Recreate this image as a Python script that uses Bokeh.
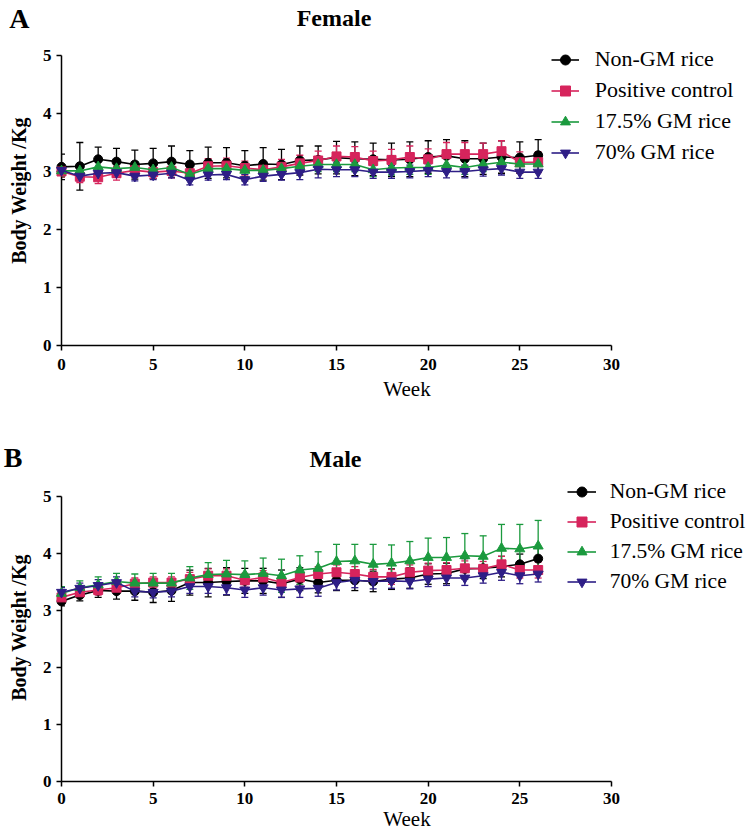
from bokeh.plotting import figure
from bokeh.models import (ColumnDataSource, Whisker, TeeHead, Legend, LegendItem,
                          Label, Range1d, FixedTicker, LinearAxis, Div)
from bokeh.layouts import column
from bokeh.embed import file_html
from bokeh.resources import INLINE

weeks = list(range(27))
series_names = ["Non-GM rice", "Positive control", "17.5% GM rice", "70% GM rice"]
x_ticks = [0, 5, 10, 15, 20, 25, 30]
y_ticks = [0, 1, 2, 3, 4, 5]

# Female body weight (kg), mean and error
f_non = [3.08, 3.09, 3.21, 3.17, 3.12, 3.14, 3.17, 3.12, 3.15, 3.15, 3.10, 3.13, 3.12, 3.19,
         3.20, 3.24, 3.22, 3.21, 3.20, 3.21, 3.25, 3.27, 3.22, 3.22, 3.25, 3.24, 3.28]
f_non_err = [0.22, 0.41, 0.21, 0.23, 0.25, 0.26, 0.27, 0.24, 0.27, 0.26, 0.26, 0.28, 0.26, 0.25,
             0.24, 0.28, 0.29, 0.28, 0.29, 0.30, 0.28, 0.28, 0.31, 0.27, 0.28, 0.27, 0.27]
f_pos = [3.00, 2.91, 2.90, 2.97, 3.02, 2.99, 3.01, 2.97, 3.09, 3.10, 3.06, 3.03, 3.08, 3.14,
         3.19, 3.26, 3.25, 3.18, 3.20, 3.25, 3.21, 3.30, 3.30, 3.30, 3.35, 3.16, 3.16]
f_pos_err = [0.10, 0.10, 0.11, 0.12, 0.12, 0.11, 0.12, 0.12, 0.13, 0.13, 0.12, 0.13, 0.13, 0.14,
             0.16, 0.18, 0.18, 0.17, 0.18, 0.19, 0.18, 0.20, 0.20, 0.19, 0.18, 0.18, 0.18]
f_g17 = [3.01, 3.01, 3.08, 3.05, 3.07, 3.03, 3.07, 2.95, 3.05, 3.05, 3.02, 3.02, 3.05, 3.09,
         3.12, 3.12, 3.12, 3.03, 3.06, 3.07, 3.07, 3.11, 3.07, 3.12, 3.16, 3.13, 3.13]
f_g17_err = [0.10, 0.09, 0.10, 0.10, 0.10, 0.10, 0.10, 0.10, 0.10, 0.10, 0.11, 0.10, 0.11, 0.11,
             0.12, 0.12, 0.12, 0.12, 0.12, 0.12, 0.12, 0.12, 0.12, 0.12, 0.12, 0.12, 0.12]
f_g70 = [3.02, 2.92, 2.97, 2.98, 2.92, 2.94, 2.97, 2.85, 2.94, 2.95, 2.86, 2.92, 2.95, 2.98,
         3.04, 3.03, 3.03, 2.99, 2.99, 3.00, 3.02, 3.00, 3.00, 3.03, 3.05, 2.99, 2.99]
f_g70_err = [0.08, 0.08, 0.08, 0.08, 0.08, 0.08, 0.08, 0.08, 0.09, 0.09, 0.09, 0.09, 0.10, 0.12,
             0.15, 0.12, 0.12, 0.11, 0.11, 0.11, 0.11, 0.11, 0.11, 0.11, 0.11, 0.11, 0.11]

# Male body weight (kg), mean and error
m_non = [3.16, 3.27, 3.35, 3.34, 3.34, 3.32, 3.35, 3.49, 3.49, 3.51, 3.52, 3.52, 3.47, 3.55,
         3.49, 3.53, 3.53, 3.51, 3.55, 3.57, 3.64, 3.65, 3.73, 3.74, 3.77, 3.81, 3.91]
m_non_err = [0.08, 0.10, 0.12, 0.14, 0.16, 0.18, 0.19, 0.22, 0.25, 0.24, 0.22, 0.22, 0.24, 0.20,
             0.18, 0.18, 0.18, 0.18, 0.18, 0.18, 0.18, 0.18, 0.18, 0.18, 0.18, 0.18, 0.20]
m_pos = [3.23, 3.32, 3.36, 3.40, 3.47, 3.49, 3.49, 3.55, 3.61, 3.61, 3.53, 3.58, 3.49, 3.58,
         3.64, 3.67, 3.64, 3.59, 3.59, 3.67, 3.70, 3.71, 3.74, 3.73, 3.81, 3.71, 3.71]
m_pos_err = [0.08, 0.08, 0.09, 0.10, 0.10, 0.10, 0.10, 0.12, 0.12, 0.12, 0.12, 0.12, 0.12, 0.13,
             0.13, 0.13, 0.13, 0.13, 0.13, 0.13, 0.13, 0.13, 0.13, 0.13, 0.14, 0.14, 0.14]
m_g17 = [3.30, 3.40, 3.45, 3.51, 3.48, 3.48, 3.48, 3.57, 3.63, 3.64, 3.63, 3.65, 3.61, 3.71,
         3.74, 3.86, 3.87, 3.81, 3.83, 3.87, 3.93, 3.93, 3.96, 3.95, 4.09, 4.08, 4.13]
m_g17_err = [0.12, 0.12, 0.14, 0.14, 0.16, 0.17, 0.17, 0.20, 0.21, 0.24, 0.24, 0.27, 0.29, 0.25,
             0.29, 0.30, 0.29, 0.35, 0.32, 0.34, 0.34, 0.35, 0.39, 0.36, 0.42, 0.43, 0.45]
m_g70 = [3.32, 3.39, 3.44, 3.49, 3.34, 3.32, 3.34, 3.42, 3.42, 3.40, 3.36, 3.40, 3.36, 3.38,
         3.39, 3.49, 3.53, 3.51, 3.52, 3.51, 3.55, 3.57, 3.57, 3.61, 3.67, 3.61, 3.64]
m_g70_err = [0.08, 0.09, 0.10, 0.10, 0.10, 0.10, 0.10, 0.12, 0.12, 0.12, 0.13, 0.13, 0.13, 0.15,
             0.14, 0.13, 0.13, 0.13, 0.13, 0.13, 0.13, 0.13, 0.13, 0.13, 0.14, 0.14, 0.14]

colors = ["#000000", "#D6245C", "#1B9A3E", "#2E1E86"]
markers = ["circle", "square", "triangle", "inverted_triangle"]
marker_sizes = [9, 9, 10, 10]
FONT = "Liberation Serif"
W = 750
LEFT = 59
FW = W - LEFT
HAS_ORIENT = "axis_label_orientation" in LinearAxis.properties()


def make_header(h, letter, letter_right, title, title_x, title_y):
    p = figure(frame_width=FW, frame_height=h, x_range=Range1d(0, FW), y_range=Range1d(0, h),
               output_backend="svg", toolbar_location=None,
               min_border_left=LEFT, min_border_right=0, min_border_top=0, min_border_bottom=0,
               x_axis_location=None, y_axis_location=None)
    p.outline_line_color = None
    p.xgrid.visible = False
    p.ygrid.visible = False
    if HAS_ORIENT:
        ax = LinearAxis(ticker=FixedTicker(ticks=[]), axis_label=letter,
                        axis_line_color=None, major_tick_line_color=None,
                        minor_tick_line_color=None, major_tick_out=0, major_tick_in=0,
                        major_label_standoff=0, axis_label_standoff=LEFT - letter_right,
                        axis_label_text_font=FONT, axis_label_text_font_style="bold",
                        axis_label_text_font_size="28px", axis_label_text_color="black")
        ax.axis_label_orientation = "horizontal"
        p.add_layout(ax, "left")
    p.add_layout(Label(x=title_x - LEFT, y=title_y, text=title, text_font=FONT,
                       text_font_style="bold", text_font_size="24px", text_color="black",
                       text_align="center", text_baseline="alphabetic"))
    return p


def make_panel(means, errs, frame_h, y_top_px, bottom, tick_standoff, label_standoff,
               legend_xy, legend_standoff, legend_glyph_w, legend_font):
    x_end = 30 * FW / 550.0
    y_end = 5 * frame_h / float(frame_h - y_top_px)
    p = figure(frame_width=FW, frame_height=frame_h, x_range=Range1d(0, x_end),
               y_range=Range1d(0, y_end), output_backend="svg", toolbar_location=None,
               min_border_left=LEFT, min_border_right=0,
               min_border_top=0, min_border_bottom=bottom)
    p.outline_line_color = None
    p.xgrid.visible = False
    p.ygrid.visible = False

    for ax in (p.xaxis[0], p.yaxis[0]):
        ax.axis_line_width = 1.5
        ax.axis_line_color = "black"
        ax.major_tick_line_width = 1.5
        ax.major_tick_line_color = "black"
        ax.major_tick_out = 5
        ax.major_tick_in = 0
        ax.minor_tick_line_color = None
        ax.major_label_text_font = FONT
        ax.major_label_text_font_style = "bold"
        ax.major_label_text_font_size = "17px"
        ax.major_label_text_color = "black"
        ax.axis_label_text_color = "black"
        ax.axis_label_text_font = FONT
    p.xaxis[0].major_label_standoff = tick_standoff
    p.yaxis[0].major_label_standoff = 5
    p.xaxis[0].bounds = (0, 30)
    p.yaxis[0].bounds = (0, 5)
    p.xaxis[0].ticker = FixedTicker(ticks=x_ticks)
    p.yaxis[0].ticker = FixedTicker(ticks=y_ticks)
    p.xaxis[0].axis_label = "Week"
    p.xaxis[0].axis_label_text_font_style = "normal"
    p.xaxis[0].axis_label_text_font_size = "21px"
    p.xaxis[0].axis_label_standoff = label_standoff
    p.yaxis[0].axis_label = "Body Weight /Kg"
    p.yaxis[0].axis_label_text_font_style = "bold"
    p.yaxis[0].axis_label_text_font_size = "20px"
    p.yaxis[0].axis_label_standoff = 10

    items = []
    for name, m, e, c, mk, ms in zip(series_names, means, errs, colors, markers, marker_sizes):
        src = ColumnDataSource(dict(x=weeks, y=m,
                                    upper=[a + b for a, b in zip(m, e)],
                                    lower=[a - b for a, b in zip(m, e)]))
        wk = Whisker(source=src, base="x", upper="upper", lower="lower", dimension="height",
                     line_color=c, line_width=1.3,
                     upper_head=TeeHead(size=7, line_color=c, line_width=1.3),
                     lower_head=TeeHead(size=7, line_color=c, line_width=1.3))
        p.add_layout(wk)
        lr = p.line("x", "y", source=src, line_color=c, line_width=1.6, level="overlay")
        sr = p.scatter("x", "y", source=src, marker=mk, size=ms, fill_color=c, line_color=c,
                       level="overlay")
        items.append(LegendItem(label=name, renderers=[lr, sr]))

    leg = Legend(items=items, location=legend_xy, border_line_color=None,
                 background_fill_alpha=0, padding=0, margin=0, spacing=5,
                 label_standoff=legend_standoff, glyph_width=legend_glyph_w, glyph_height=25,
                 label_height=25, label_text_font=FONT, label_text_font_size=legend_font,
                 label_text_color="black")
    p.add_layout(leg)
    return p


h1 = make_header(35, "A", 27, "Female", 331.5, 18)
p1 = make_panel([f_non, f_pos, f_g17, f_g70], [f_non_err, f_pos_err, f_g17_err, f_g70_err],
                frame_h=310, y_top_px=20, bottom=96, tick_standoff=8, label_standoff=4,
                legend_xy=(552 - LEFT, 180), legend_standoff=16, legend_glyph_w=28,
                legend_font="22px")
h2 = make_header(32, "B", 20, "Male", 333, 15)
p2 = make_panel([m_non, m_pos, m_g17, m_g70], [m_non_err, m_pos_err, m_g17_err, m_g70_err],
                frame_h=308, y_top_px=23, bottom=50, tick_standoff=6, label_standoff=0,
                legend_xy=(568 - LEFT, 187), legend_standoff=14, legend_glyph_w=29,
                legend_font="21.5px")

children = [h1, p1, h2, p2]
if not HAS_ORIENT:
    children = [Div(text='<div style="font:bold 28px \'Liberation Serif\';width:750px">A</div>',
                    width=750, height=35), p1,
                Div(text='<div style="font:bold 28px \'Liberation Serif\';width:750px">B</div>',
                    width=750, height=32), p2]
layout = column(*children, spacing=0)
open("out.html", "w").write(file_html(layout, INLINE))
